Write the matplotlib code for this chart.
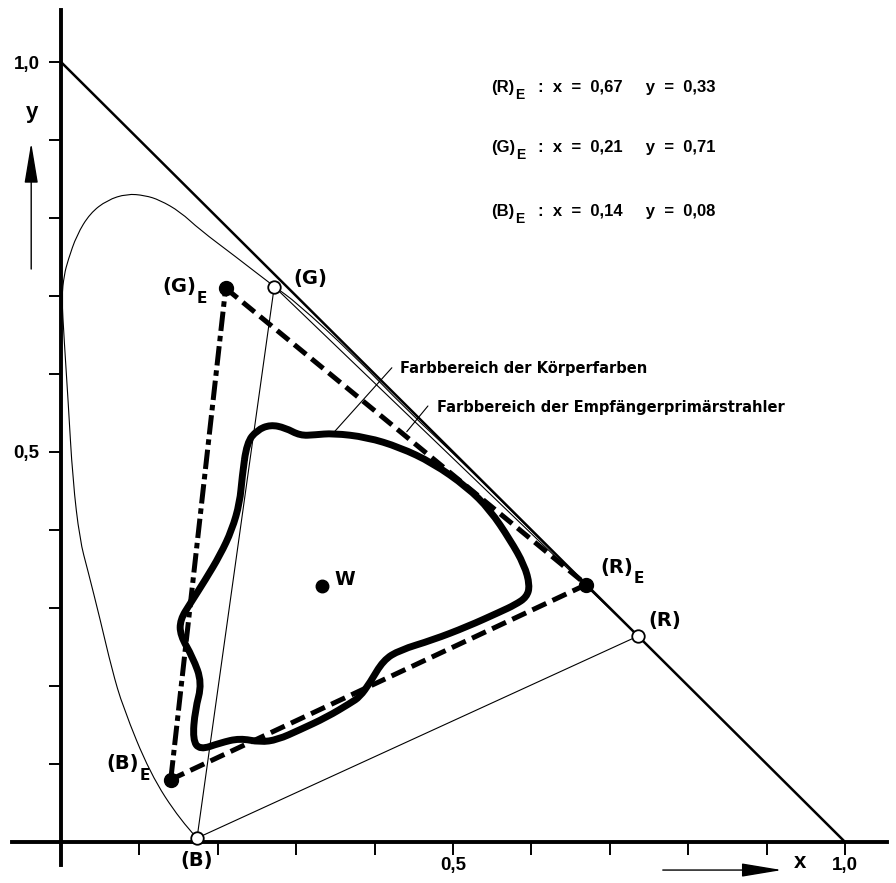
import matplotlib
matplotlib.use("Agg")
import matplotlib.pyplot as plt
from matplotlib.path import Path
from matplotlib.patches import PathPatch
import numpy as np

plt.rcParams.update({"font.family": ["Liberation Sans", "DejaVu Sans"],
                     "font.weight": "bold", "lines.scale_dashes": False,
                     "lines.solid_joinstyle": "round", "lines.solid_capstyle": "round"})
LBL = ["DejaVu Sans"]

# ---- data -------------------------------------------------------------------
# spectral locus (stylised, as drawn)
locus_x = [0.1735, 0.152, 0.1135, 0.079, 0.065, 0.050, 0.034, 0.024, 0.015, 0.009,
           0.004, 0.001, 0.004, 0.009, 0.020, 0.037, 0.059, 0.084, 0.107, 0.126,
           0.152, 0.177, 0.222, 0.272, 0.300, 0.373, 0.440, 0.5125, 0.575, 0.627,
           0.665, 0.736]
locus_y = [0.005, 0.028, 0.088, 0.173, 0.221, 0.285, 0.349, 0.387, 0.464, 0.567,
           0.644, 0.699, 0.727, 0.746, 0.778, 0.806, 0.823, 0.831, 0.829, 0.823,
           0.808, 0.785, 0.751, 0.712, 0.692, 0.6245, 0.555, 0.4866, 0.424, 0.3725,
           0.334, 0.264]

# primaries of the RGB system (open circles)
prim_x = [0.736, 0.272, 0.1735]
prim_y = [0.264, 0.712, 0.005]

# receiver primaries (R)E, (G)E, (B)E
rec_names = ["(R)", "(G)", "(B)"]
rec_x = [0.67, 0.21, 0.14]
rec_y = [0.33, 0.71, 0.08]
rec_text_x = ["0,67", "0,21", "0,14"]
rec_text_y = ["0,33", "0,71", "0,08"]

white_x, white_y = 0.333, 0.328

# gamut of surface colours (Körperfarben), closed outline
body_x = [0.237, 0.250, 0.267, 0.286, 0.305, 0.324, 0.347, 0.390, 0.432, 0.474,
          0.518, 0.547, 0.573, 0.591, 0.598, 0.594, 0.579, 0.560, 0.518, 0.474,
          0.432, 0.411, 0.394, 0.381, 0.369, 0.339, 0.305, 0.276, 0.254, 0.228,
          0.203, 0.177, 0.168, 0.171, 0.180, 0.168, 0.152, 0.152, 0.165, 0.184,
          0.203, 0.218, 0.228, 0.231]
body_y = [0.512, 0.528, 0.535, 0.531, 0.521, 0.522, 0.524, 0.519, 0.506, 0.486,
          0.455, 0.426, 0.387, 0.355, 0.329, 0.314, 0.304, 0.295, 0.276, 0.259,
          0.246, 0.233, 0.204, 0.186, 0.178, 0.160, 0.144, 0.131, 0.128, 0.133,
          0.127, 0.118, 0.131, 0.169, 0.204, 0.237, 0.265, 0.285, 0.306, 0.336,
          0.368, 0.400, 0.435, 0.468]


def smooth(xs, ys, closed=False):
    # quadratic bezier through the midpoints, traced points act as control points
    p = np.column_stack([xs, ys])
    if closed:
        mids = (p + np.roll(p, -1, axis=0)) / 2
        verts = [mids[-1]]
        codes = [Path.MOVETO]
        for i in range(len(p)):
            verts += [p[i], mids[i]]
            codes += [Path.CURVE3, Path.CURVE3]
    else:
        verts = [p[0]]
        codes = [Path.MOVETO]
        for i in range(1, len(p) - 2):
            verts += [p[i], (p[i] + p[i + 1]) / 2]
            codes += [Path.CURVE3, Path.CURVE3]
        verts += [p[-2], p[-1]]
        codes += [Path.CURVE3, Path.CURVE3]
    return Path(verts, codes)


# ---- figure -----------------------------------------------------------------
fig = plt.figure(figsize=(8.96, 8.83), dpi=100)
ax = fig.add_axes([0, 0, 1, 1])
ax.set_xlim(-0.0778, 1.065)
ax.set_ylim(-0.0526, 1.0795)

for s in ["top", "right"]:
    ax.spines[s].set_visible(False)
ax.spines["left"].set_position(("data", 0))
ax.spines["bottom"].set_position(("data", 0))
ax.spines["left"].set_bounds(-0.029, 1.067)
ax.spines["bottom"].set_bounds(-0.0625, 1.054)
for s in ["left", "bottom"]:
    ax.spines[s].set_linewidth(2.8)

ticks = np.round(np.arange(1, 11) / 10, 1)
ax.set_xticks(ticks, ["", "", "", "", "0,5", "", "", "", "", "1,0"])
ax.set_yticks(ticks, ["", "", "", "", "0,5", "", "", "", "", "1,0"])
ax.tick_params(direction="out", length=9, width=1.4, labelsize=13.5, pad=2)
ax.tick_params(axis="y", pad=6.5)
for lab in ax.get_xticklabels() + ax.get_yticklabels():
    lab.set_fontweight("bold")

# x + y = 1
ax.plot([0, 1], [1, 0], color="black", lw=1.8)
# spectral locus and RGB triangle
ax.add_patch(PathPatch(smooth(locus_x, locus_y), fill=False, lw=0.8, ec="black"))
ax.plot(prim_x + [prim_x[0]], prim_y + [prim_y[0]], color="black", lw=0.8)

# receiver triangle
ax.plot([rec_x[1], rec_x[0], rec_x[2]], [rec_y[1], rec_y[0], rec_y[2]],
        color="black", lw=3.6, dashes=(11, 5), dash_capstyle="butt")
ax.plot([rec_x[2], rec_x[1]], [rec_y[2], rec_y[1]],
        color="black", lw=3.6, dashes=(14, 3.5, 4, 3.5), dash_capstyle="butt")

# body colour gamut
ax.add_patch(PathPatch(smooth(body_x, body_y, closed=True), fill=False, lw=5,
                       ec="black", joinstyle="round"))

# points
ax.plot(prim_x, prim_y, "o", ms=9, mfc="white", mec="black", mew=1.3, zorder=5)
ax.plot(rec_x, rec_y, "o", ms=10, color="black", zorder=5)
ax.plot([white_x], [white_y], "o", ms=9, color="black", zorder=5)
ax.text(0.349, 0.336, "W", fontsize=13.5, va="center", ha="left", family=LBL)


def sub_label(x, y, main, size=14, sub=11, dy=4, family=LBL):
    t = ax.text(x, y, main, fontsize=size, va="center", ha="left", family=family)
    ax.annotate("E", xy=(1, 0), xycoords=t, xytext=(0.5, dy), textcoords="offset points",
                fontsize=sub, va="top", ha="left", family=family)
    return t


# point labels
ax.text(0.296, 0.722, "(G)", fontsize=14, va="center", family=LBL)
ax.text(0.749, 0.284, "(R)", fontsize=14, va="center", family=LBL)
ax.text(0.1735, -0.024, "(B)", fontsize=14, va="center", ha="center", family=LBL)
sub_label(0.129, 0.712, "(G)")
sub_label(0.688, 0.352, "(R)")
sub_label(0.058, 0.100, "(B)")

# coordinate table
for n, vx, vy, yy in zip(rec_names, rec_text_x, rec_text_y, [0.967, 0.890, 0.808]):
    sub_label(0.549, yy, n, size=12, sub=10, dy=5, family=["Liberation Sans"])
    ax.text(0.609, yy, f":  x  =  {vx}     y  =  {vy}", fontsize=12, va="center")

# leaders
ax.plot([0.347, 0.422], [0.524, 0.608], color="black", lw=0.8)
ax.text(0.433, 0.607, "Farbbereich der Körperfarben", fontsize=10.5, va="center", family=LBL)
ax.plot([0.441, 0.468], [0.526, 0.559], color="black", lw=0.8)
ax.text(0.479, 0.557, "Farbbereich der Empfängerprimärstrahler", fontsize=10.5,
        va="center", family=LBL)

# axis arrows and names
ax.annotate("", xy=(0.923, -0.036), xytext=(0.764, -0.036),
            arrowprops=dict(arrowstyle="-|>,head_length=1.8,head_width=0.3",
                            mutation_scale=14, lw=1, color="black"))
ax.text(0.943, -0.026, "x", fontsize=16, va="center", ha="center")
ax.annotate("", xy=(-0.038, 0.90), xytext=(-0.038, 0.731),
            arrowprops=dict(arrowstyle="-|>,head_length=1.8,head_width=0.3",
                            mutation_scale=14, lw=1, color="black"))
ax.text(-0.037, 0.935, "y", fontsize=16, va="center", ha="center")

fig.savefig("out.png", dpi=100)
